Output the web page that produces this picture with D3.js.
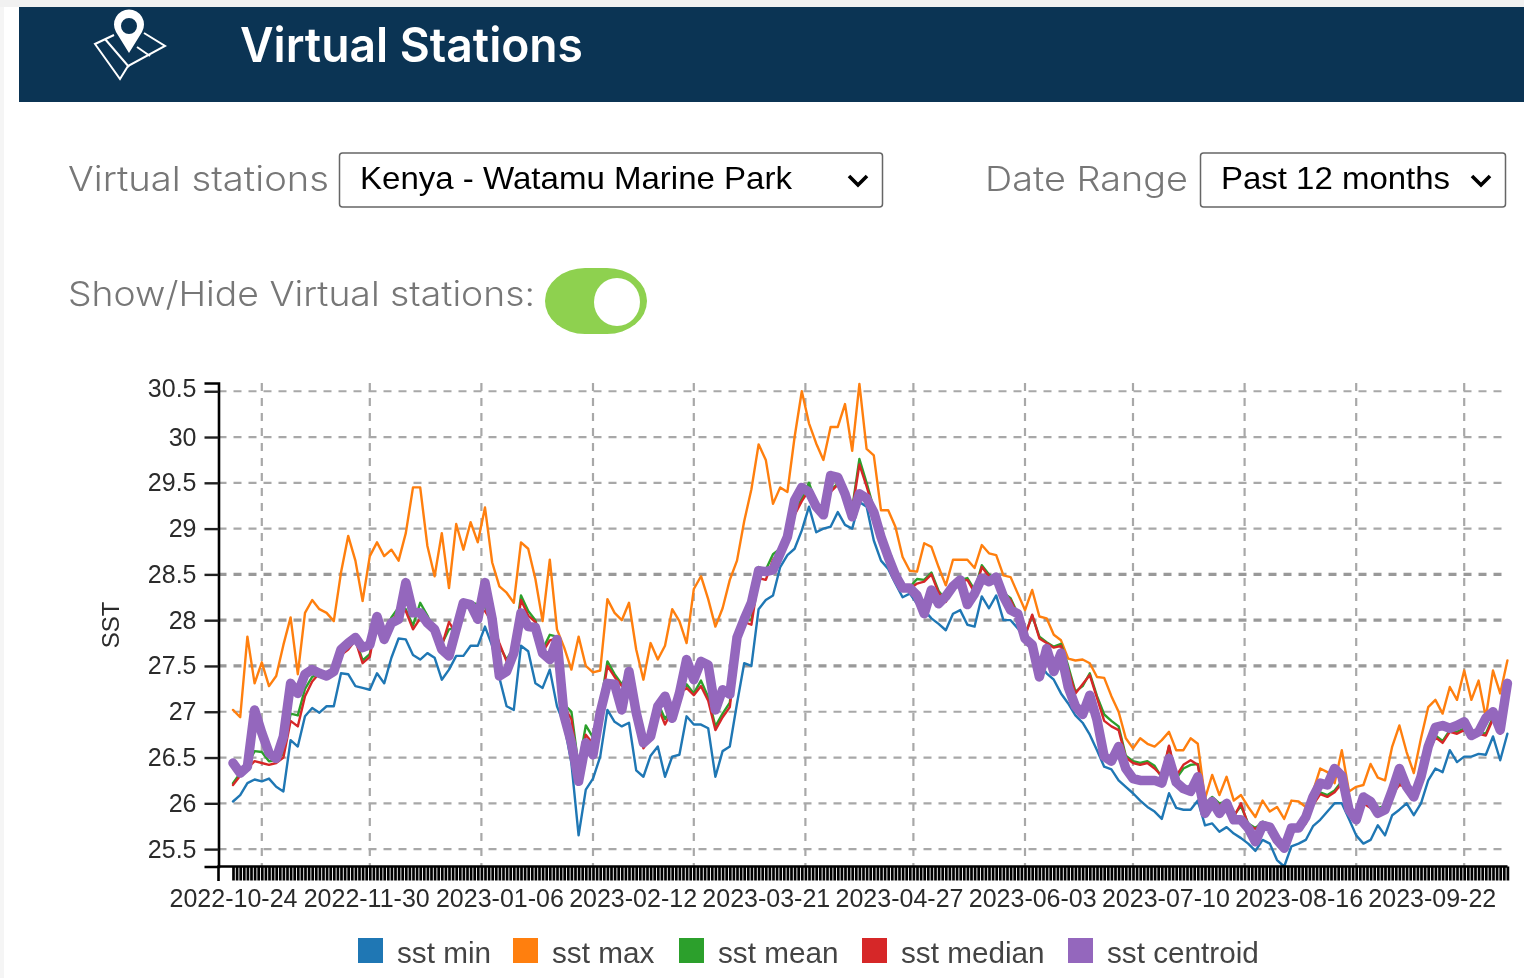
<!doctype html>
<html lang="en">
  <head>
    <title>Virtual Stations</title>
    <style>
      html, body { margin: 0; background: #fff; overflow: hidden; }
      #viz svg { display: block; filter: blur(0.7px); }
      .axis text { font-family: "Liberation Sans", sans-serif; fill: #2b2b2b; }
    </style>
  </head>
  <body>
    <main>
      <div id="viz"></div>
    </main>
    <script src="https://unpkg.com/d3@7/dist/d3.min.js"></script>
    <script>
      const startDate = new Date(2022, 9, 24)
      const dayCount = 355
      const labelEvery = 37
      const sampleEvery = 2 // series every second day
      const yTicks = [25.5, 26, 26.5, 27, 27.5, 28, 28.5, 29, 29.5, 30, 30.5]
      const heavyGrid = [27.5, 28, 28.5]

      const sstMin = [
        26.02,26.09,26.22,26.26,26.24,26.27,26.18,26.13,26.69,26.62,
        26.95,27.04,26.99,27.06,27.06,27.42,27.41,27.28,27.26,27.24,
        27.42,27.31,27.59,27.8,27.79,27.62,27.57,27.64,27.59,27.35,
        27.46,27.61,27.61,27.72,27.72,27.93,27.72,27.37,27.06,27.02,
        27.72,27.66,27.31,27.26,27.46,27.06,26.86,26.44,25.65,26.15,
        26.27,26.51,27.02,26.89,26.84,26.88,26.36,26.29,26.52,26.62,
        26.29,26.51,26.53,26.95,26.86,26.86,26.82,26.29,26.57,26.62,
        27.09,27.53,27.5,28.12,28.22,28.27,28.58,28.71,28.78,28.98,
        29.24,28.96,29.0,29.02,29.18,29.04,29.0,29.29,29.24,28.87,
        28.65,28.56,28.4,28.25,28.29,28.18,28.11,28.02,27.96,27.89,
        28.07,28.11,27.95,27.93,28.26,28.13,28.27,28.0,28.0,27.91,
        27.8,27.71,27.53,27.42,27.35,27.2,27.09,26.96,26.88,26.75,
        26.58,26.4,26.37,26.25,26.18,26.11,26.03,25.96,25.91,25.83,
        26.11,25.95,25.93,25.93,26.03,25.76,25.78,25.69,25.74,25.67,
        25.62,25.56,25.48,25.6,25.56,25.38,25.31,25.53,25.56,25.6,
        25.75,25.82,25.91,26.0,26.0,25.83,25.65,25.56,25.6,25.76,
        25.65,25.87,25.93,26.0,25.87,26.0,26.25,26.38,26.34,26.58,
        26.45,26.51,26.51,26.54,26.53,26.73,26.47,26.76
      ]
      const sstMax = [
        27.02,26.94,27.82,27.31,27.54,27.28,27.39,27.73,28.03,27.41,
        28.08,28.22,28.12,28.08,27.99,28.52,28.92,28.65,28.21,28.70,
        28.85,28.70,28.77,28.65,28.95,29.45,29.45,28.81,28.48,28.95,
        28.35,29.05,28.77,29.07,28.85,29.23,28.63,28.37,28.30,28.19,
        28.85,28.78,28.45,27.99,28.66,27.90,27.70,27.46,27.82,27.50,
        27.43,27.45,28.23,28.08,28.0,28.19,27.68,27.35,27.75,27.57,
        27.72,28.12,27.99,27.75,28.34,28.48,28.23,27.93,28.13,28.44,
        28.65,29.08,29.43,29.92,29.75,29.27,29.45,29.40,30.0,30.5,
        30.15,29.93,29.75,30.11,30.11,30.36,29.85,30.58,29.87,29.80,
        29.2,29.2,29.02,28.69,28.54,28.53,28.84,28.8,28.58,28.38,
        28.66,28.66,28.66,28.57,28.82,28.73,28.71,28.49,28.47,28.29,
        28.11,28.33,28.04,28.02,27.84,27.78,27.58,27.56,27.57,27.53,
        27.38,27.37,27.17,27.0,26.71,26.6,26.71,26.65,26.62,26.69,
        26.78,26.58,26.58,26.71,26.65,26.05,26.31,26.09,26.29,26.03,
        26.09,25.96,25.85,26.03,25.91,25.96,25.83,26.03,26.02,25.96,
        26.13,26.38,26.34,26.22,26.58,26.13,26.18,26.2,26.43,26.28,
        26.25,26.62,26.85,26.56,26.33,26.71,27.05,27.13,26.98,27.27,
        27.13,27.45,27.13,27.34,26.94,27.45,27.2,27.56
      ]
      const sstMean = [
        26.22,26.33,26.42,26.57,26.56,26.46,26.47,26.54,26.98,26.96,
        27.25,27.38,27.43,27.41,27.47,27.64,27.7,27.8,27.56,27.63,
        28.05,27.84,28.03,28.14,28.12,27.94,28.19,28.05,27.88,27.74,
        27.9,27.92,28.2,28.2,28.17,28.14,28.0,27.72,27.57,27.7,
        28.27,28.1,28.0,27.68,27.84,27.82,27.08,27.0,26.4,26.85,
        26.72,27.05,27.55,27.41,27.3,27.44,27.08,26.63,26.76,27.1,
        26.92,27.05,27.22,27.3,27.2,27.34,27.16,26.84,26.98,27.1,
        27.75,28.02,28.0,28.58,28.55,28.72,28.78,28.92,29.17,29.33,
        29.5,29.27,29.24,29.42,29.49,29.4,29.22,29.76,29.5,29.22,
        29.0,28.75,28.57,28.38,28.36,28.45,28.44,28.52,28.32,28.22,
        28.38,28.44,28.46,28.33,28.6,28.5,28.44,28.3,28.24,28.07,
        27.84,28.05,27.82,27.76,27.71,27.74,27.5,27.22,27.28,27.42,
        27.17,26.97,26.9,26.84,26.52,26.46,26.44,26.46,26.41,26.28,
        26.62,26.27,26.38,26.42,26.43,26.0,26.07,26.0,26.02,25.87,
        25.97,25.78,25.73,25.8,25.77,25.63,25.53,25.7,25.74,25.8,
        26.0,26.12,26.09,26.14,26.24,25.92,25.87,26.02,25.97,25.95,
        25.97,26.12,26.22,26.2,26.1,26.3,26.58,26.74,26.68,26.8,
        26.78,26.82,26.74,26.78,26.76,26.94,26.78,27.22
      ]
      const sstMedian = [
        26.2,26.3,26.38,26.46,26.44,26.42,26.44,26.5,26.9,26.84,
        27.17,27.33,27.42,27.4,27.46,27.62,27.68,27.78,27.53,27.6,
        28.02,27.82,27.98,28.1,28.1,27.9,28.02,28.02,27.85,27.72,
        27.98,27.85,28.18,28.14,28.12,28.1,27.98,27.75,27.55,27.68,
        28.22,28.05,27.98,27.65,27.78,27.8,27.05,26.92,26.35,26.75,
        26.65,27.0,27.5,27.38,27.28,27.4,27.02,26.6,26.72,27.05,
        26.86,27.02,27.2,27.26,27.18,27.28,27.12,26.8,26.94,27.05,
        27.7,27.98,27.95,28.46,28.44,28.66,28.76,28.9,29.15,29.3,
        29.42,29.25,29.22,29.4,29.48,29.38,29.2,29.7,29.46,29.2,
        28.98,28.72,28.55,28.36,28.34,28.4,28.42,28.5,28.3,28.2,
        28.36,28.42,28.44,28.3,28.58,28.48,28.42,28.28,28.22,28.05,
        27.82,28.06,27.8,27.75,27.7,27.72,27.46,27.2,27.3,27.4,
        27.15,26.9,26.84,26.8,26.5,26.44,26.42,26.44,26.38,26.3,
        26.63,26.3,26.42,26.47,26.42,25.98,26.05,25.98,26.0,25.85,
        26.0,25.76,25.72,25.78,25.75,25.62,25.52,25.68,25.72,25.78,
        25.98,26.1,26.07,26.12,26.22,25.9,25.85,26.0,25.95,25.93,
        25.95,26.1,26.2,26.18,26.08,26.28,26.55,26.72,26.66,26.78,
        26.76,26.8,26.72,26.76,26.74,26.92,26.76,27.2
      ]
      const sstCentroid = [
        26.44,26.33,26.4,27.02,26.77,26.55,26.49,26.73,27.31,27.2,
        27.41,27.46,27.42,27.39,27.44,27.68,27.75,27.81,27.7,27.73,
        28.04,27.79,27.97,28.01,28.41,28.08,28.08,27.97,27.9,27.68,
        27.61,27.9,28.19,28.17,28.01,28.41,28.01,27.39,27.44,27.64,
        28.08,27.93,27.92,27.64,27.57,27.79,26.95,26.66,26.24,26.66,
        26.53,26.99,27.31,27.3,27.02,27.44,26.99,26.66,26.73,27.06,
        27.17,26.93,27.2,27.57,27.35,27.55,27.51,27.02,27.24,27.19,
        27.81,28.01,28.19,28.54,28.53,28.55,28.73,28.91,29.31,29.45,
        29.4,29.24,29.15,29.58,29.56,29.38,29.13,29.38,29.33,29.18,
        28.91,28.69,28.49,28.35,28.35,28.27,28.07,28.33,28.18,28.26,
        28.37,28.44,28.17,28.29,28.46,28.42,28.47,28.26,28.11,28.07,
        27.8,27.73,27.38,27.69,27.44,27.64,27.27,27.06,26.97,27.18,
        26.91,26.51,26.46,26.62,26.38,26.27,26.25,26.25,26.25,26.22,
        26.49,26.23,26.16,26.13,26.29,25.89,26.02,25.89,26.0,25.82,
        25.82,25.73,25.58,25.76,25.74,25.6,25.51,25.73,25.73,25.85,
        26.07,26.22,26.2,26.38,26.3,25.93,25.82,26.07,26.02,25.89,
        25.93,26.14,26.38,26.18,26.07,26.29,26.62,26.83,26.85,26.82,
        26.85,26.89,26.74,26.78,26.93,27.0,26.8,27.31
      ]

      const seriesNames = ['sst min', 'sst max', 'sst mean', 'sst median', 'sst centroid']
      const seriesValues = [sstMin, sstMax, sstMean, sstMedian, sstCentroid]
      const seriesColors = ['#1f77b4', '#ff7f0e', '#2ca02c', '#d62728', '#9467bd']
      const seriesWidths = [2.4, 2.4, 2.4, 2.4, 9.5]
      const legendX = [358, 513, 679, 862, 1068]

      const days = d3.timeDay.range(startDate, d3.timeDay.offset(startDate, dayCount))
      const dayLabel = d3.timeFormat('%Y-%m-%d')

      const width = 1524
      const height = 978
      const svg = d3.select('#viz').append('svg').attr('width', width).attr('height', height)

      // page furniture above the chart
      svg.append('rect').attr('width', width).attr('height', 7).attr('fill', '#f1f1f1')
      svg.append('rect').attr('y', 7).attr('width', 4).attr('height', height).attr('fill', '#f5f5f5')
      svg.append('rect').attr('x', 19).attr('y', 7).attr('width', width - 19).attr('height', 95).attr('fill', '#0b3454')

      const icon = svg.append('g').attr('fill', 'none').attr('stroke', '#fff').attr('stroke-width', 2)
      icon.append('path').attr('d', 'M114 35 L95 44 L120 79 L128 66 L165 46 L144 33')
      icon.append('path').attr('d', 'M105 39 L129 67 M137 47 L150 56')
      icon.append('path').attr('fill', '#fff').attr('stroke', 'none').attr('fill-rule', 'evenodd')
        .attr('d', 'M129 53 L116 32 A15 15 0 1 1 142 32 Z M129 18 A8 8 0 1 0 129.01 34 A8 8 0 1 0 129 18 Z')

      const label = (x, y, text, size, len, fill, weight, family) => svg.append('text')
        .attr('x', x).attr('y', y).attr('font-size', size).attr('fill', fill)
        .attr('font-weight', weight).attr('font-family', family)
        .attr('textLength', len).attr('lengthAdjust', 'spacingAndGlyphs').text(text)

      label(240, 62, 'Virtual Stations', 48, 343, '#fff', 600, 'Inter')
      label(68, 191, 'Virtual stations', 34, 261, '#777', 300, 'Inter')
      label(985, 191, 'Date Range', 34, 203, '#777', 300, 'Inter')
      label(68, 306, 'Show/Hide Virtual stations:', 34, 467, '#777', 300, 'Inter')

      const select = (x, w, text, textLen) => {
        svg.append('rect').attr('x', x + 0.5).attr('y', 153).attr('width', w).attr('height', 54)
          .attr('rx', 3).attr('fill', '#fff').attr('stroke', '#666').attr('stroke-width', 1.5)
        label(x + 21, 189, text, 32, textLen, '#000', 400, '"Liberation Sans"')
        svg.append('path').attr('d', `M${x + w - 33} 176 l9 9 l9 -9`)
          .attr('fill', 'none').attr('stroke', '#000').attr('stroke-width', 3.6)
      }
      select(339, 543, 'Kenya - Watamu Marine Park', 432)
      select(1200, 305, 'Past 12 months', 229)

      svg.append('rect').attr('x', 545).attr('y', 268).attr('width', 102).attr('height', 66)
        .attr('rx', 40).attr('ry', 33).attr('fill', '#8ed14f')
      svg.append('ellipse').attr('cx', 617).attr('cy', 302).attr('rx', 23).attr('ry', 24).attr('fill', '#fff')

      // chart
      const x = d3.scalePoint().domain(days).range([233, 1507.4])
      const y = d3.scaleLinear().domain([25.31, 30.59]).range([866.5, 383])
      const left = 218.5
      const right = 1507.5

      const monthStarts = days.filter(d => d.getDate() === 1)
      svg.append('g').selectAll('line').data(monthStarts).join('line')
        .attr('x1', d => x(d)).attr('x2', d => x(d))
        .attr('y1', y.range()[1]).attr('y2', y.range()[0])
        .attr('stroke', '#a8a8a8').attr('stroke-width', 2.2).attr('stroke-dasharray', '8 7')

      svg.append('g').selectAll('line').data(yTicks).join('line')
        .attr('x1', left).attr('x2', right)
        .attr('y1', d => y(d)).attr('y2', d => y(d))
        .attr('stroke', d => heavyGrid.includes(d) ? '#999' : '#a8a8a8')
        .attr('stroke-width', d => heavyGrid.includes(d) ? 3.2 : 2.2)
        .attr('stroke-dasharray', '8 7')

      const line = d3.line()
        .x((d, i) => x(days[i * sampleEvery]))
        .y(d => y(d))

      svg.append('g').selectAll('path').data(seriesValues).join('path')
        .attr('d', line)
        .attr('fill', 'none')
        .attr('stroke', (d, i) => seriesColors[i])
        .attr('stroke-width', (d, i) => seriesWidths[i])
        .attr('stroke-linejoin', 'round')
        .attr('stroke-linecap', 'round')

      const yAxis = svg.append('g').attr('class', 'axis')
        .attr('transform', `translate(${left},0)`)
        .call(d3.axisLeft(y).tickValues(yTicks).tickFormat(d3.format('')).tickSize(14).tickPadding(8))
      yAxis.selectAll('text').attr('font-size', 25)
      yAxis.selectAll('text').filter(d => d === 30.5).attr('dy', '0.2em')
      yAxis.selectAll('line').attr('stroke', '#222').attr('stroke-width', 2.4)
      yAxis.select('.domain').attr('stroke', '#000').attr('stroke-width', 2.6)

      const xAxis = svg.append('g').attr('class', 'axis')
        .attr('transform', `translate(0,${y.range()[0]})`)
        .call(d3.axisBottom(x)
          .tickFormat((d, i) => i % labelEvery === 0 ? dayLabel(d) : '')
          .tickSize(14).tickSizeOuter(0).tickPadding(9))
      xAxis.select('.domain').attr('d', `M${left},14.5V0H${right}`).attr('stroke', '#000').attr('stroke-width', 2.6)
      xAxis.selectAll('line').attr('stroke', '#000').attr('stroke-width', 2.7)
      xAxis.selectAll('text').attr('font-size', 25)

      svg.append('text').attr('class', 'axis')
        .attr('transform', 'translate(119,625) rotate(-90)')
        .attr('text-anchor', 'middle').attr('font-family', '"Liberation Sans"')
        .attr('font-size', 24).attr('fill', '#2b2b2b').text('SST')

      // legend
      const legend = svg.append('g').selectAll('g').data(seriesNames).join('g')
        .attr('transform', (d, i) => `translate(${legendX[i]},938)`)
      legend.append('rect').attr('width', 25).attr('height', 25).attr('fill', (d, i) => seriesColors[i])
      legend.append('text').attr('x', 39).attr('y', 25)
        .attr('font-family', '"Liberation Sans"').attr('font-size', 29.7).attr('fill', '#444').text(d => d)
    </script>
  </body>
</html>
